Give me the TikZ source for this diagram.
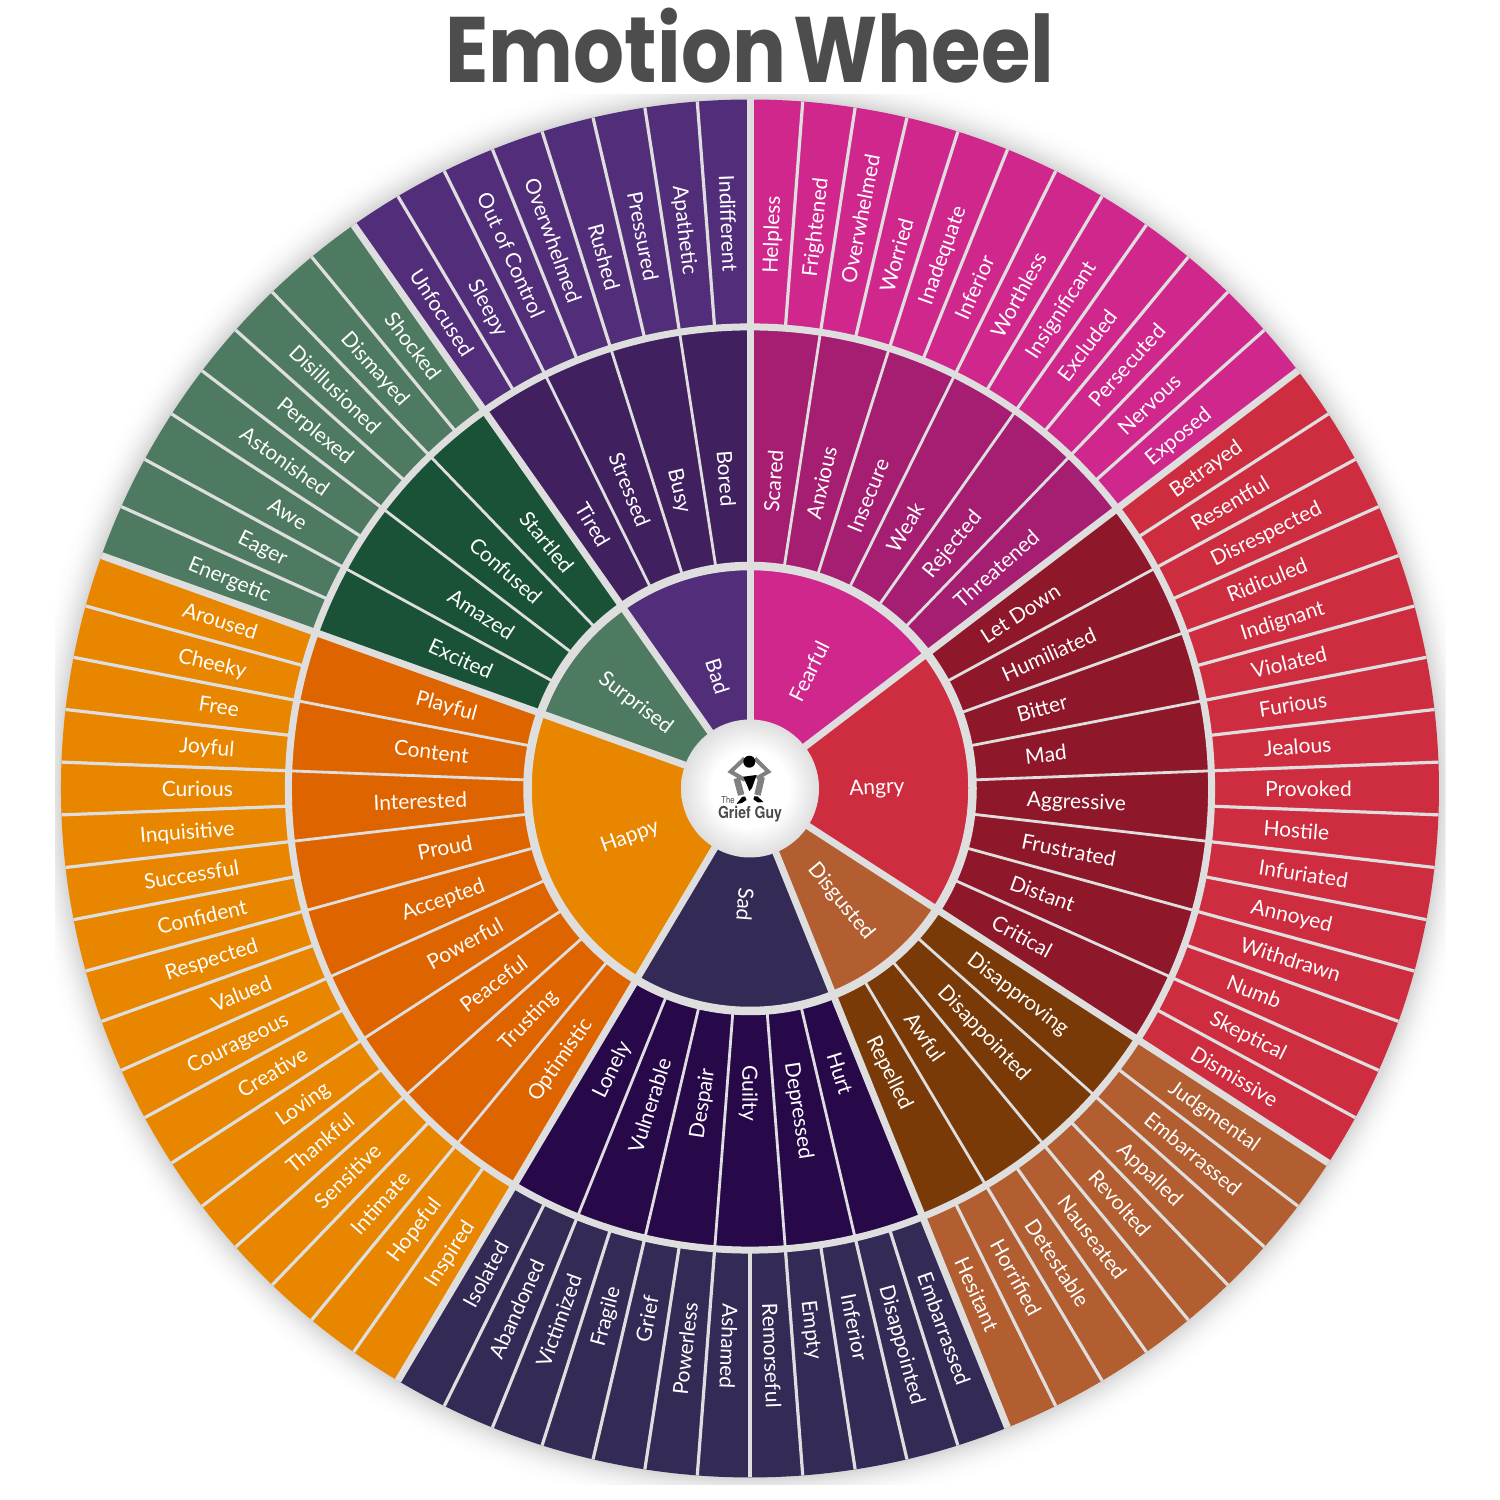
\documentclass[tikz,border=0pt]{standalone}
\usepackage{fontspec}
\setmainfont{Lato}
\newfontfamily\titlefont{Poppins}
\newfontfamily\logofont{TeX Gyre Heros}
\definecolor{gapc}{HTML}{DEDEDE}
\definecolor{titlec}{HTML}{4D4D4D}
\definecolor{logoc}{HTML}{4A4A4A}
\definecolor{logog}{HTML}{808080}
\definecolor{fearA}{HTML}{D0278D}\definecolor{fearB}{HTML}{A61E72}
\definecolor{angrA}{HTML}{CE2C3F}\definecolor{angrB}{HTML}{8E1729}
\definecolor{disgA}{HTML}{B25E31}\definecolor{disgB}{HTML}{7A3A08}
\definecolor{sadA}{HTML}{332A56}\definecolor{sadB}{HTML}{27094A}
\definecolor{hapA}{HTML}{E88600}\definecolor{hapB}{HTML}{DE6400}
\definecolor{surA}{HTML}{4E7A62}\definecolor{surB}{HTML}{1A5237}
\definecolor{badA}{HTML}{522D7A}\definecolor{badB}{HTML}{41205F}
\pgfdeclareradialshading{hubshade}{\pgfpoint{0bp}{0bp}}{color(0bp)=(white);color(14bp)=(white);color(25bp)=(gapc);color(50bp)=(gapc)}
\def\unitang{4.390244}
\def\woff{5}
\newcommand{\wsector}[4]{%
  \pgfmathsetmacro\sa{90-#1*\unitang}\pgfmathsetmacro\sb{90-#2*\unitang}%
  \fill[#4] (0,0) -- (\sa:#3) arc[start angle=\sa,end angle=\sb,radius=#3] -- cycle;}
\newcommand{\wlabel}[5]{% name, text, rRight, rLeft, position in units
  \pgfmathsetmacro\wang{#5*\unitang}%
  \pgfmathsetmacro\wpol{90-\wang}%
  \ifdim\wang pt<185pt
    \pgfmathsetmacro\wrot{90-\wang}\pgfmathsetmacro\wdir{\wrot-90}%
    \node[wheeltext,anchor=west,rotate=\wrot] (#1) at ([shift={(\wdir:\woff)}]\wpol:#3) {#2};
  \else
    \pgfmathsetmacro\wrot{270-\wang}\pgfmathsetmacro\wdir{\wrot-90}%
    \node[wheeltext,anchor=east,rotate=\wrot] (#1) at ([shift={(\wdir:\woff)}]\wpol:#4) {#2};
  \fi}
\tikzset{
  wheeltext/.style={text=white,inner sep=0pt,text height=.72em,text depth=.2em,font=\fontsize{21}{21}\selectfont},
  gapline/.style={draw=gapc,line cap=butt},
}
\begin{document}
\begin{tikzpicture}[x=1pt,y=1pt]
\useasboundingbox (0,0) rectangle (1500,1500);
\fill[white] (0,0) rectangle (1500,1500);
\node[anchor=base,inner sep=0pt,text=titlec,xscale=.862,font=\titlefont\bfseries\fontsize{93}{93}\selectfont] (title) at (750,1417) {Emotion\hspace{-.12em} Wheel};
\begin{scope}
\clip (55,15) rectangle (1445,1405);
\foreach \r in {727,725,...,689}{
  \pgfmathsetmacro\g{17*((727-\r)/38)^2.2}
  \fill[black!\g!white] (750,711.5) circle[radius=\r];
}
\end{scope}
\begin{scope}[shift={(750,711.5)}]
% outer ring, middle ring, inner ring
\foreach \s/\e/\ca/\cb in {0/12/fearA/fearB,12/28/angrA/angrB,28/36/disgA/disgB,36/48/sadA/sadB,48/66/hapA/hapB,66/74/surA/surB,74/82/badA/badB}{
  \wsector{\s}{\e}{689}{\ca}
  \wsector{\s}{\e}{461}{\cb}
  \wsector{\s}{\e}{222}{\ca}
}
% leaf separators
\foreach \i in {0,...,81}{
  \pgfmathsetmacro\q{90-\i*\unitang}
  \draw[gapline,line width=3.2pt] (\q:463) -- (\q:689);
}
\foreach \i in {0,2,...,80}{
  \pgfmathsetmacro\q{90-\i*\unitang}
  \draw[gapline,line width=2.8pt] (\q:224) -- (\q:460);
}
\draw[gapline,line width=7pt] (0,0) circle[radius=461.6];
\draw[gapline,line width=8.5pt] (0,0) circle[radius=222.5];
\foreach \i in {0,12,28,36,48,66,74}{
  \pgfmathsetmacro\q{90-\i*\unitang}
  \draw[gapline,line width=7pt] (\q:60) -- (\q:689);
}
% hub
\shade[shading=hubshade] (0,0) circle[radius=69];
% logo (image coordinates)
\begin{scope}[shift={(-750,788.5)},yscale=-1]
\draw[logog,line width=4pt,line join=miter] (744.5,758.5) -- (730.7,771.7) -- (745,780);
\draw[logog,line width=4pt,line join=miter] (755,758.5) -- (768.3,771.7) -- (756.7,778.3);
\draw[logog,line width=6.5pt] (736.7,778.3) -- (741.2,795);
\draw[logog,line width=6.5pt] (761.7,777) -- (757.5,795);
\fill[black] (743.3,776.7) -- (756.7,775) -- (754.5,781) -- (752,788) -- (749.3,791) -- (747,785) -- (745,781) -- cycle;
\fill[black] (749.3,761.7) circle[radius=6];
\fill[black] (736.5,804) -- (742,797) -- (745,796.5) -- (746.5,800) -- (742,803) -- cycle;
\fill[black] (763.5,802) -- (757.5,796.5) -- (754,796.5) -- (753.5,799.5) -- (758,802.5) -- cycle;
\end{scope}
\node[inner sep=0pt,anchor=base,text=logoc,font=\logofont\fontsize{9.5}{9.5}\selectfont,xscale=.8] (logothe) at (-22,-15.5) {The};
\node[inner sep=0pt,anchor=base,text=logoc,font=\logofont\bfseries\fontsize{16.5}{16.5}\selectfont,xscale=.85] (logoname) at (0,-30) {Grief Guy};
% leaf labels
\foreach \t [count=\i from 0] in {Helpless,Frightened,Overwhelmed,Worried,Inadequate,Inferior,Worthless,Insignificant,Excluded,Persecuted,Nervous,Exposed,
 Betrayed,Resentful,Disrespected,Ridiculed,Indignant,Violated,Furious,Jealous,Provoked,Hostile,Infuriated,Annoyed,Withdrawn,Numb,Skeptical,Dismissive,
 Judgmental,Embarrassed,Appalled,Revolted,Nauseated,Detestable,Horrified,Hesitant,
 Embarrassed,Disappointed,Inferior,Empty,Remorseful,Ashamed,Powerless,Grief,Fragile,Victimized,Abandoned,Isolated,
 Inspired,Hopeful,Intimate,Sensitive,Thankful,Loving,Creative,Courageous,Valued,Respected,Confident,Successful,Inquisitive,Curious,Joyful,Free,Cheeky,Aroused,
 Energetic,Eager,Awe,Astonished,Perplexed,Disillusioned,Dismayed,Shocked,
 Unfocused,Sleepy,Out of Control,Overwhelmed,Rushed,Pressured,Apathetic,Indifferent}{
  \pgfmathsetmacro\pos{\i+0.5}
  \wlabel{leaf\i}{\t}{515}{517}{\pos}
}
% middle labels
\foreach \t [count=\i from 0] in {Scared,Anxious,Insecure,Weak,Rejected,Threatened,
 Let Down,Humiliated,Bitter,Mad,Aggressive,Frustrated,Distant,Critical,
 Disapproving,Disappointed,Awful,Repelled,
 Hurt,Depressed,Guilty,Despair,Vulnerable,Lonely,
 Optimistic,Trusting,Peaceful,Powerful,Accepted,Proud,Interested,Content,Playful,
 Excited,Amazed,Confused,Startled,
 Tired,Stressed,Busy,Bored}{
  \pgfmathsetmacro\pos{2*\i+1}
  \wlabel{mid\i}{\t}{277}{283}{\pos}
}
% inner labels
\foreach \t/\p/\n/\o in {Fearful/6/fearful/6,Angry/20/angry/8,Disgusted/32/disgusted/5,Sad/42/sad/1,Happy/57/happy/8,Surprised/70/surprised/5,Bad/78/bad/2}{
  \def\woff{\o}
  \wlabel{\n}{\t}{99}{99}{\p}
}
\end{scope}
\end{tikzpicture}
\end{document}
